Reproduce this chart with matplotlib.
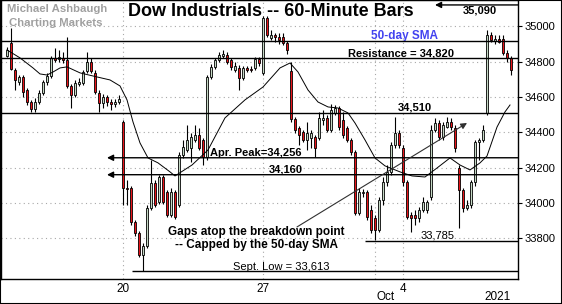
import matplotlib.pyplot as plt
from matplotlib.patches import Rectangle
import numpy as np

plt.rcParams['font.family'] = ['Liberation Sans', 'DejaVu Sans']

# 60-minute bars, Sep 13 (last bar) .. Oct 7, 2021 -- 7 bars per session
opens = [34833, 34907, 34754, 34686, 34714, 34640, 34572, 34533,
         34572, 34623, 34686, 34720, 34822, 34816, 34822,
         34810, 34663, 34612, 34674, 34680, 34748, 34799,
         34737, 34623, 34567, 34601, 34572, 34561, 34572,
         34459, 34085, 34085, 33892, 33830, 33705, 33756,
         33972, 34113, 34006, 34147, 34062, 33932, 34062,
         33989, 34272, 34300, 34312, 34357, 34385, 34357,
         34261, 34714, 34771, 34810, 34833, 34839, 34810,
         34754, 34765, 34708, 34765, 34760, 34765, 34816,
         34737, 35048, 34935, 34952, 34941, 34941, 34907,
         34748, 34476, 34425, 34402, 34357, 34368, 34374,
         34368, 34470, 34482, 34414, 34510, 34538, 34470,
         34425, 34357, 34289, 33943, 34057, 34062, 33960,
         33915, 33847, 34017, 34119, 34176, 34329, 34397,
         34312, 34119, 33932, 33932, 33915, 33960, 33960,
         34034, 34414, 34453, 34374, 34430, 34459, 34425,
         34198, 34074, 33972, 33989, 34119, 34346, 34357,
         34510, 34952, 34918, 34929, 34929, 34850, 34822]
closes = [34867, 34759, 34697, 34714, 34629, 34572, 34533, 34572,
          34623, 34686, 34720, 34822, 34810, 34827, 34810,
          34663, 34612, 34680, 34686, 34742, 34799, 34748,
          34629, 34567, 34601, 34572, 34561, 34572, 34589,
          34085, 34079, 33892, 33830, 33705, 33756, 33972,
          34113, 33989, 34147, 34006, 33932, 34062, 33921,
          34272, 34317, 34357, 34374, 34385, 34312, 34261,
          34714, 34771, 34810, 34839, 34844, 34799, 34771,
          34776, 34708, 34765, 34754, 34754, 34816, 34793,
          35048, 34952, 34952, 34941, 34924, 34907, 34867,
          34476, 34414, 34385, 34357, 34397, 34397, 34312,
          34482, 34482, 34414, 34527, 34538, 34430, 34385,
          34357, 34289, 33943, 34062, 34062, 33921, 33847,
          33847, 34017, 34119, 34176, 34329, 34397, 34329,
          34119, 33921, 33915, 33915, 33960, 34006, 34006,
          34414, 34453, 34374, 34442, 34459, 34430, 34312,
          34074, 33972, 33989, 34119, 34346, 34357, 34414,
          34952, 34924, 34929, 34912, 34850, 34822, 34754]
highs = [34884, 34992, 34765, 34725, 34725, 34652, 34584, 34595,
         34640, 34697, 34737, 34833, 34878, 34867, 34856,
         34941, 34674, 34697, 34708, 34754, 34856, 34822,
         34754, 34640, 34618, 34612, 34589, 34589, 34612,
         34470, 34130, 34096, 33904, 33841, 33773, 33989,
         34244, 34130, 34159, 34159, 34074, 34085, 34074,
         34289, 34357, 34442, 34397, 34442, 34425, 34368,
         34725, 34788, 34822, 34856, 34867, 34856, 34822,
         34799, 34782, 34776, 34776, 34776, 34827, 34827,
         35059, 35059, 34980, 34963, 34963, 34963, 34918,
         34799, 34487, 34436, 34414, 34459, 34414, 34385,
         34516, 34527, 34499, 34561, 34555, 34550, 34516,
         34436, 34368, 34300, 34085, 34079, 34074, 33989,
         33932, 34034, 34147, 34215, 34346, 34487, 34414,
         34329, 34130, 33949, 33960, 33977, 34034, 34017,
         34442, 34482, 34470, 34459, 34487, 34482, 34442,
         34215, 34085, 34017, 34130, 34357, 34368, 34442,
         34980, 34969, 34952, 34952, 34952, 34867, 34833]
lows = [34827, 34754, 34640, 34669, 34601, 34555, 34516, 34516,
        34561, 34612, 34669, 34708, 34799, 34799, 34793,
        34652, 34538, 34601, 34663, 34669, 34737, 34737,
        34618, 34516, 34538, 34550, 34527, 34544, 34561,
        33989, 33989, 33875, 33813, 33694, 33614, 33745,
        33960, 33977, 33994, 33994, 33921, 33921, 33909,
        33977, 34255, 34289, 34232, 34346, 34300, 34215,
        34244, 34703, 34759, 34799, 34822, 34788, 34754,
        34742, 34640, 34697, 34742, 34742, 34754, 34776,
        34725, 34941, 34924, 34912, 34901, 34895, 34844,
        34459, 34397, 34329, 34346, 34300, 34312, 34261,
        34357, 34442, 34402, 34402, 34499, 34414, 34368,
        34346, 34272, 33932, 33932, 34034, 33904, 33830,
        33790, 33836, 33989, 34096, 34159, 34312, 34312,
        34096, 33909, 33836, 33875, 33892, 33949, 33943,
        34017, 34402, 34357, 34357, 34425, 34414, 34289,
        33858, 33949, 33960, 33972, 34096, 34244, 34346,
        34499, 34912, 34901, 34907, 34839, 34799, 34725]

# thin moving average line (at bar positions)
ma_bar = [0, 3.25, 6.5, 8.25, 10, 11.5, 13.25, 15, 18.25, 22.5, 25.75, 28.25,
          30, 31.5, 33.25, 35.25, 37.75, 40.75, 42, 46.25, 50.25, 54.5, 59.5,
          64, 68.25, 70.75, 72.75, 75.25, 77.75, 80.25, 82.75, 85.25, 87, 89.5,
          92, 94.5, 98.25, 101.25, 104.5, 107.5, 110.75, 113.25, 115.75,
          118.25, 120, 122.5, 124.5, 125.75]
ma_val = [34867, 34822, 34765, 34731, 34725, 34742, 34765, 34771, 34737, 34714,
          34697, 34663, 34584, 34459, 34340, 34255, 34227, 34176, 34153, 34215,
          34300, 34482, 34584, 34657, 34765, 34793, 34742, 34640, 34572, 34544,
          34538, 34510, 34453, 34357, 34255, 34210, 34176, 34153, 34147, 34198,
          34255, 34215, 34187, 34227, 34266, 34430, 34516, 34555]

# levels
sma50 = 34918
resistance = 34820
level_34510 = 34510
apr_peak = 34256
level_34160 = 34160
oct_low = 33785
sept_low = 33613
high_35090 = 35090

day_ticks = [29, 64, 99]
day_labels = ['20', '27', '4']
y_ticks = [33800, 34000, 34200, 34400, 34600, 34800, 35000]

RED = '#e8141a'
GREEN = '#c5d8c5'

fig = plt.figure(figsize=(5.62, 3.04), dpi=100)
ax = fig.add_axes([1 / 562, 25 / 304, 517 / 562, 279 / 304])
x0, x1 = -1.5, 127.75
ax.set_xlim(x0, x1)
ax.set_ylim(33569, 35150)

# dotted grid
for lv in y_ticks:
    ax.axhline(lv, color='#a8a8a8', lw=0.8, ls=(0, (1, 3)), zorder=0)
for d in day_ticks + [92]:
    ax.axvline(d, color='#a8a8a8', lw=0.8, ls=(0, (1, 3)), zorder=0)

# candles
o = np.array(opens); c = np.array(closes)
h = np.array(highs); l = np.array(lows)
x = np.arange(len(o))
bottoms = np.minimum(o, c)
heights = np.maximum(np.abs(c - o), 3)
colors = [GREEN if cc >= oo else RED for oo, cc in zip(o, c)]
ax.vlines(x, l, h, color='black', lw=0.8, zorder=2)
ax.bar(x, heights, bottom=bottoms, width=0.72, color=colors,
       edgecolor='black', linewidth=0.6, zorder=3)

ax.plot(ma_bar, ma_val, color='black', lw=0.7, zorder=4)

# horizontal levels
for lv in [sma50, resistance, level_34510]:
    ax.axhline(lv, color='black', lw=1.0, zorder=5)
ax.hlines(oct_low, 89.5, x1, color='black', lw=1.0, zorder=5)
ax.hlines(sept_low, 31.25, x1, color='black', lw=1.0, zorder=5)
arrow = dict(arrowstyle='-|>', color='black', lw=1.0, mutation_scale=9,
             shrinkA=0, shrinkB=0)
for lv in [apr_peak, level_34160]:
    ax.annotate('', xy=(25, lv), xytext=(x1, lv), arrowprops=arrow, zorder=5)
ax.annotate('', xy=(107, high_35090 + 32), xytext=(x1, high_35090 + 32),
            arrowprops=arrow, zorder=5)
ax.annotate('', xy=(115, 34453), xytext=(72.5, 33864),
            arrowprops=dict(arrowstyle='-|>', color='#303030', lw=0.8,
                            mutation_scale=9, shrinkA=0, shrinkB=0), zorder=5)

# labels
bold = dict(fontsize=8, fontweight='bold', color='black', va='baseline')
ax.text(114, high_35090 - 15, '35,090', ha='left', **bold)
ax.text(91, sma50 + 13, '50-day SMA', ha='left', fontsize=8.5,
        fontweight='bold', color='#4343f0', va='baseline')
ax.text(85.25, resistance + 10, 'Resistance = 34,820', ha='left', **bold)
ax.text(97.75, level_34510 + 11, '34,510', ha='left', **bold)
ax.text(50.75, apr_peak + 11, 'Apr. Peak=34,256', ha='left', **bold)
ax.text(65.5, level_34160 + 11, '34,160', ha='left', **bold)
ax.text(62.4, 33819, 'Gaps atop the breakdown point', ha='center',
        fontsize=8.5, fontweight='bold', va='baseline')
ax.text(62.4, 33745, '-- Capped by the 50-day SMA', ha='center',
        fontsize=8.5, fontweight='bold', va='baseline')
ax.text(103.5, oct_low + 12, '33,785', ha='left', fontsize=8, va='baseline')
ax.text(56.5, sept_low + 7, 'Sept. Low = 33,613', ha='left', fontsize=8,
        va='baseline')

fig.text(270.5 / 562, 1 - 16 / 304, 'Dow Industrials -- 60-Minute Bars',
         ha='center', va='baseline', fontsize=13, fontweight='bold')
fig.text(7 / 562, 1 - 11.7 / 304, 'Michael Ashbaugh', ha='left',
         va='baseline', fontsize=8.2, fontweight='bold', color='#a0a0a0')
fig.text(9 / 562, 1 - 26 / 304, 'Charting Markets', ha='left',
         va='baseline', fontsize=8.2, fontweight='bold', color='#a0a0a0')

# axes
ax.set_xticks([])
ax.yaxis.tick_right()
ax.set_yticks(y_ticks)
ax.set_yticklabels([str(v) for v in y_ticks])
ax.tick_params(axis='y', length=3, pad=1.5, labelsize=8)
for s in ax.spines.values():
    s.set_linewidth(1.0)
xt = ax.get_xaxis_transform()
for d, lab in zip(day_ticks, day_labels):
    ax.text(d, -13 / 279, lab, transform=xt, ha='center', va='baseline',
            fontsize=8.5)
ax.text(94.75, -21 / 279, 'Oct', transform=xt, ha='center', va='baseline',
        fontsize=8.5)
ax.text(122.75, -21 / 279, '2021', transform=xt, ha='center', va='baseline',
        fontsize=8.5)

fig.patches.append(Rectangle((0, 0), 1, 1, transform=fig.transFigure,
                             fill=False, edgecolor='black', lw=1.5))

fig.savefig('out.png', dpi=100)
